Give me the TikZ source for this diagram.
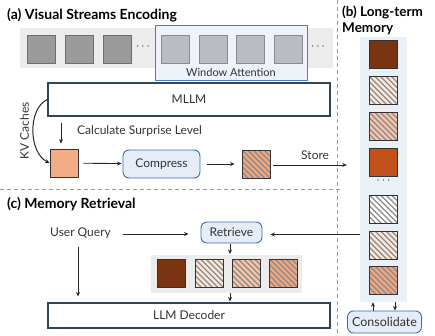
\documentclass[tikz,border=0pt]{standalone}
\usepackage{fontspec}
\setmainfont{Lato}
\usetikzlibrary{arrows.meta}

\definecolor{framedark}{HTML}{9B9B9B}
\definecolor{framedarkline}{HTML}{6E6E6E}
\definecolor{framelight}{HTML}{B9BDC1}
\definecolor{framelightline}{HTML}{878C91}
\definecolor{stripgray}{HTML}{ECECEC}
\definecolor{winfill}{HTML}{EEF3F9}
\definecolor{winline}{HTML}{4F7DB5}
\definecolor{boxline}{HTML}{2F4755}
\definecolor{pillfill}{HTML}{E4EDF8}
\definecolor{pillline}{HTML}{3D6DA8}
\definecolor{membg}{HTML}{E9F0F8}
\definecolor{brown}{HTML}{7B3411}
\definecolor{rust}{HTML}{C2501A}
\definecolor{peach}{HTML}{F2AC86}
\definecolor{peachpale}{HTML}{FCE6DA}
\definecolor{peachmid}{HTML}{F5C4A8}
\definecolor{peachdeep}{HTML}{F0A67E}
\definecolor{hatchgray}{HTML}{8A8A8A}
\definecolor{txt}{HTML}{333333}
\definecolor{sepgray}{HTML}{9A9A9A}

\tikzset{
  frame/.style={draw=framedarkline, fill=framedark, line width=0.8pt,
    minimum size=28pt, inner sep=0pt},
  framelt/.style={draw=framelightline, fill=framelight, line width=0.8pt,
    minimum size=28pt, inner sep=0pt},
  memsq/.style={draw=black!80, line width=0.9pt, minimum size=28pt, inner sep=0pt},
  hatched/.style={memsq, fill=#1,
    path picture={
      \foreach \i in {-44,-38.5,...,34}
        \draw[hatchgray, line width=1.4pt]
          ([xshift=\i pt]path picture bounding box.north west) -- ++(40pt,-40pt);
    }},
  bigbox/.style={draw=boxline, line width=1.2pt, fill=white, inner sep=0pt,
    text=txt, font=\fontsize{12}{14}\selectfont},
  pill/.style={draw=pillline, fill=pillfill, line width=0.9pt, rounded corners=6pt,
    inner sep=0pt, text=txt, font=\fontsize{12}{14}\selectfont},
  lbl/.style={text=txt, font=\fontsize{12}{14}\selectfont, inner sep=0pt},
  ttl/.style={font=\fontsize{14}{16}\selectfont\bfseries, inner sep=0pt, anchor=west},
  arr/.style={-{Stealth[length=4.5pt,width=4pt]}, line width=0.9pt, draw=black!85},
  sep/.style={draw=sepgray, line width=0.8pt, dash pattern=on 4pt off 3pt},
}

\begin{document}
\begin{tikzpicture}[x=1pt,y=-1pt]
\useasboundingbox (0,0) rectangle (435,335);

% separators
\draw[sep] (337,0) -- (337,335);
\draw[sep] (0,189) -- (341,189);

% ---------------- (a) visual streams encoding ----------------
\node[ttl] (ta) at (7,15) {(a) Visual Streams Encoding};

\fill[stripgray] (20,28) rectangle (333,68);
\node[draw=winline, fill=winfill, line width=0.9pt, inner sep=0pt,
      minimum width=152pt, minimum height=54.5pt] (win) at (231,52.75) {};
\node[frame] (f1) at (41.5,49) {};
\node[frame] (f2) at (79.5,49) {};
\node[frame] (f3) at (117,49) {};
\node[lbl] (d1) at (143,47) {$\cdots$};
\node[framelt] (w1) at (175.5,49) {};
\node[framelt] (w2) at (213,49) {};
\node[framelt] (w3) at (250.5,49) {};
\node[framelt] (w4) at (288,49) {};
\node[lbl] (d2) at (318,47) {$\cdots$};
\node[lbl, font=\fontsize{11}{13}\selectfont] (wlab) at (231,72.5) {Window Attention};

\node[bigbox, minimum width=282pt, minimum height=33pt] (mllm) at (189,99.5) {MLLM};

\node[memsq, fill=peach] (s0) at (64,163) {};
\node[lbl, anchor=west] (surp) at (77,131) {Calculate Surprise Level};
\draw[arr, shorten <=6pt, shorten >=5pt] (mllm.south -| 61,0) -- (s0.north -| 61,0);

\draw[arr, line width=1pt] (mllm.west) .. controls (28,108) and (28,152) .. (s0.west);
\node[lbl, rotate=90] (kv) at (24.5,131) {KV Caches};

\node[pill, minimum width=77pt, minimum height=28pt] (comp) at (161.5,164) {Compress};
\node[hatched=peachdeep] (s1) at (256,164) {};

\draw[arr, shorten <=5pt, shorten >=1pt] (s0) -- (comp);
\draw[arr, shorten <=7pt, shorten >=7pt] (comp) -- (s1);

% ---------------- (b) long-term memory ----------------
\node[ttl, font=\fontsize{13.5}{15}\selectfont\bfseries] (tb1) at (342,12) {(b) Long-term};
\node[ttl, font=\fontsize{13.5}{15}\selectfont\bfseries] (tb2) at (342,28.5) {Memory};

\node[fill=membg, inner sep=0pt, minimum width=47pt, minimum height=265pt] (mem) at (383.5,169.5) {};
\node[memsq, fill=brown] (m1) at (383.5,54.5) {};
\node[hatched=peachpale] (m2) at (383.5,90.5) {};
\node[hatched=peachmid] (m3) at (383.5,126.5) {};
\node[memsq, fill=rust] (m4) at (383.5,162) {};
\node[lbl] (md) at (383.5,181) {$\cdots$};
\node[hatched=white] (m5) at (383.5,209) {};
\node[hatched=peachpale] (m6) at (383.5,245) {};
\node[hatched=peachdeep] (m7) at (383.5,280) {};

\draw[arr, shorten <=3pt, shorten >=13pt] (s1.east |- 0,165) -- (mem.west |- 0,165)
  node[lbl, midway, above=5pt] (store) {Store};

\node[pill, minimum width=74pt, minimum height=22pt, font=\fontsize{12.5}{14}\selectfont]
  (cons) at (384.5,322) {Consolidate};
\draw[arr] (cons.north -| 373,0) -- (mem.south -| 373,0);
\draw[arr] (mem.south -| 395,0) -- (cons.north -| 395,0);

% ---------------- (c) memory retrieval ----------------
\node[ttl] (tc) at (7,204) {(c) Memory Retrieval};

\node[lbl] (uq) at (80.5,233.5) {User Query};
\node[pill, minimum width=61pt, minimum height=21pt] (ret) at (231.5,232.5) {Retrieve};
\draw[arr, shorten <=12pt, shorten >=12pt] (uq.east |- 0,234) -- (ret.west |- 0,234);
\draw[arr, shorten >=8pt] (mem.west |- 0,234.5) -- (ret.east |- 0,234.5);

\fill[stripgray] (151,255) rectangle (302,293);
\coordinate (rtop) at (226.5,255);
\coordinate (rbot) at (226.5,293);
\node[memsq, fill=brown] (r1) at (171,273) {};
\node[hatched=peachpale] (r2) at (209,273) {};
\node[hatched=peachmid] (r3) at (246.5,273) {};
\node[hatched=peachdeep] (r4) at (283.5,273) {};

\node[bigbox, minimum width=282pt, minimum height=25pt] (dec) at (189,315.5) {LLM Decoder};

\draw[arr, shorten <=1pt, shorten >=1pt] (ret.south -| 230,0) -- (rtop -| 230,0);
\draw[arr, shorten >=1pt] (rbot -| 230,0) -- (dec.north -| 230,0);
\draw[arr, shorten <=8pt, shorten >=6pt] (uq.south -| 78,0) -- (dec.north -| 78,0);
\end{tikzpicture}
\end{document}
